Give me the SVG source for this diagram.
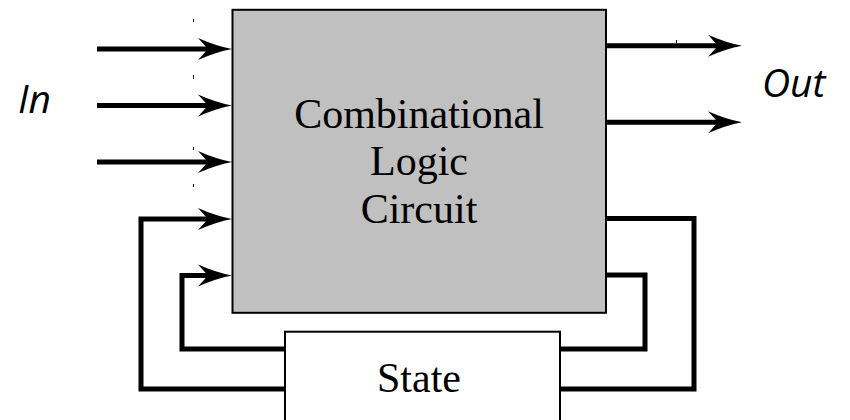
<svg xmlns="http://www.w3.org/2000/svg" width="850" height="420" viewBox="0 0 850 420">
  <style>
    .wire { fill: none; stroke: #000; stroke-width: 5; stroke-linejoin: miter; stroke-linecap: butt; }
    .arrow { marker-end: url(#head); }
    .serif { font-family: "Liberation Serif", "Times New Roman", serif; font-size: 42px; fill: #000; text-anchor: middle; }
    .label { font-family: "Open Sans", "DejaVu Sans", sans-serif; font-style: italic; font-size: 39px; fill: #000; }
    .tick { stroke: #000; stroke-width: 1; }
  </style>
  <defs>
    <!-- notched arrowhead; origin sits at the notch so the wire ends inside it -->
    <marker id="head" markerUnits="userSpaceOnUse" viewBox="-12 -12 40 24" markerWidth="40" markerHeight="24" refX="0" refY="0" orient="auto" overflow="visible">
      <path d="M24,0 Q8,-3 -10,-11 L0,0 L-10,11 Q8,3 24,0 Z" fill="#000"/>
    </marker>
  </defs>

  <!-- connectors -->
  <g id="connectors">
    <!-- inputs -->
    <path class="wire arrow" d="M97,49 H208"/>
    <path class="wire arrow" d="M97,105.5 H208"/>
    <path class="wire arrow" d="M97,162 H208"/>
    <!-- outputs -->
    <path class="wire arrow" d="M606,45.8 H718"/>
    <path class="wire arrow" d="M606,122.3 H718"/>
    <!-- state feedback into the logic -->
    <path class="wire arrow" d="M285,389 H141 V219 H208"/>
    <path class="wire arrow" d="M285,349 H182 V275.5 H208"/>
    <!-- next state from the logic -->
    <path class="wire" d="M606,218.5 H694 V389 H560"/>
    <path class="wire" d="M606,275 H645 V349 H560"/>
    <!-- small marks -->
    <line class="tick" x1="193.5" y1="19" x2="193.5" y2="22"/>
    <line class="tick" x1="193.5" y1="75" x2="193.5" y2="79"/>
    <line class="tick" x1="193.5" y1="147" x2="193.5" y2="150"/>
    <line class="tick" x1="193.5" y1="184" x2="193.5" y2="187"/>
    <line class="tick" x1="676.5" y1="40" x2="676.5" y2="43"/>
  </g>

  <g id="logic">
    <rect x="232.5" y="9.8" width="373.5" height="303" fill="#c0c0c0" stroke="#000" stroke-width="2"/>
    <text class="serif" x="419" y="128">Combinational</text>
    <text class="serif" x="419" y="175">Logic</text>
    <text class="serif" x="419" y="223">Circuit</text>
  </g>

  <g id="state">
    <rect x="285" y="331.7" width="275" height="100" fill="#fff" stroke="#000" stroke-width="2"/>
    <text class="serif" x="419" y="391.5">State</text>
  </g>

  <g id="in-label">
    <text class="label" x="18" y="113">In</text>
  </g>
  <g id="out-label">
    <text class="label" x="762" y="97">Out</text>
  </g>
</svg>
